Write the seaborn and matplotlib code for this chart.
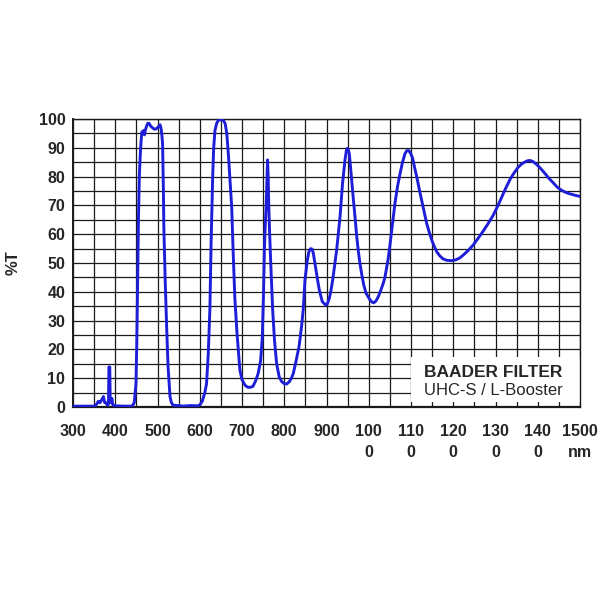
import numpy as np
import matplotlib
matplotlib.use("Agg")
import matplotlib.pyplot as plt
from matplotlib.patches import Rectangle
import seaborn as sns

# wavelength (nm) and transmission (%T)
wavelength = [
    300, 340, 352, 356, 360, 364, 368, 372, 375, 378, 382, 384, 385, 387, 388,
    390, 392, 394, 400, 420, 440, 445, 449, 451, 453, 455, 457, 459, 461, 463,
    465, 467, 469, 471, 474, 477, 480, 484, 488, 492, 496, 500, 503, 506, 508,
    510, 512, 514, 515, 518, 521.6, 525, 529.6, 533, 537, 550, 560, 580, 595,
    600.6, 606, 612, 616, 620, 624, 627, 630.6, 633, 636, 640, 644, 648, 652,
    656, 660, 664, 667.6, 671, 675.6, 679, 683, 688, 695, 700, 707, 713, 719,
    726, 732, 738, 744, 748, 751, 753, 755, 757, 759, 760.5, 762, 763, 765,
    768, 772.6, 777, 782, 788, 794, 800, 806, 812, 817, 821.5, 828, 835, 841,
    845, 849, 854.6, 858.5, 862.5, 866, 868.8, 875, 879, 883, 890, 898, 902,
    906.6, 910, 914.6, 919, 924, 932, 938, 943.8, 947, 949, 951, 954, 956.5,
    959.6, 963, 967.5, 971, 975, 979, 983, 988, 993.5, 1003, 1008, 1012, 1017,
    1022.6, 1028, 1034.4, 1038.5, 1046, 1050, 1058, 1062, 1068, 1074, 1080,
    1085.8, 1090, 1095, 1100, 1104, 1108, 1113.5, 1119, 1125, 1131, 1137,
    1143, 1149, 1155, 1161, 1168, 1176, 1186, 1196, 1206, 1216, 1224, 1235,
    1247.5, 1259, 1271, 1283, 1295, 1305, 1314.6, 1324, 1334, 1344, 1354,
    1362, 1370, 1376, 1381.7, 1389, 1397.5, 1407, 1417, 1427, 1437, 1445,
    1452.7, 1462, 1472, 1486, 1500,
]
transmission = [
    0.3, 0.3, 0.3, 1.0, 2.0, 1.5, 2.5, 3.6, 1.5, 1.5, 0.5, 1.0, 13.9, 13.9, 3.0,
    1.5, 3.0, 0.8, 0.4, 0.3, 0.3, 1.5, 8, 22, 45, 66, 80, 87, 92, 95.5,
    95, 96, 94.5, 96, 97.5, 98.5, 98.5, 97.5, 97, 96.5, 96.5, 97, 97.5, 98, 97,
    95, 91.5, 75, 62.5, 45, 28, 14, 3.6, 1.5, 0.6, 0.5, 0.3, 0.5, 0.4,
    0.8, 2, 5, 8, 18, 34, 58, 80, 90, 96, 98.5, 99.5, 99.8, 99.8,
    99.5, 98.5, 95, 88, 80, 69.5, 54, 38, 26, 12.8, 9.5, 7.6, 6.9, 6.8,
    7.2, 9, 11.5, 16, 24, 40, 54.5, 63, 69, 78, 85.8, 80, 72, 62,
    50, 33.7, 23, 15, 10.5, 8.8, 8.1, 8, 8.8, 10, 11.7, 16, 21, 28,
    34, 44, 51, 54, 55, 54.8, 53.4, 47.6, 44, 40.6, 36.6, 35.4, 35.8,
    37.7, 40, 44, 49, 54.5, 66, 77.7, 85.8, 89, 89.8, 89.6, 88, 84,
    78.8, 73, 66, 60, 54.5, 50, 46.4, 42.5, 39.5, 37.2, 36.4, 36.2, 36.8,
    38.3, 40.3, 43, 45.2, 51.5, 56, 66, 70.7, 76.5, 81, 85,
    88, 89, 89, 87.8, 86.3, 83.5, 80, 76, 71.9, 67.8, 63.8,
    60.8, 58, 55.8, 53.9, 52.5, 51.4, 50.9, 50.8, 51.1, 51.8, 52.8, 54.3,
    56.3, 58.6, 61.1, 63.8, 66.7, 69.7, 72.8, 75.9, 78.9, 81.3, 83.3,
    84.4, 85.1, 85.5, 85.6, 85.2, 84.2, 82.8, 81.1, 79.3, 77.8, 76.5,
    75.6, 74.8, 74.2, 73.6, 73.1,
]

x_ticks = [300, 400, 500, 600, 700, 800, 900, 1000, 1100, 1200, 1300, 1400, 1500]
x_labels = ["300", "400", "500", "600", "700", "800", "900",
            "100\n0", "110\n0", "120\n0", "130\n0", "140\n0", "1500\nnm"]
y_ticks = [0, 10, 20, 30, 40, 50, 60, 70, 80, 90, 100]

sns.set_style("white")
plt.rcParams["font.family"] = ["Liberation Sans", "DejaVu Sans"]

fig = plt.figure(figsize=(6, 6), dpi=100)
ax = fig.add_axes([73 / 600, 1 - 407 / 600, 507 / 600, 288 / 600])

sns.lineplot(x=wavelength, y=transmission, ax=ax, color="#1e1ed8",
             linewidth=2.1, sort=False, zorder=3)
ax.lines[-1].set_solid_joinstyle("round")

ax.set_xlim(300, 1500)
ax.set_ylim(0, 100)
ax.set_xticks(x_ticks)
ax.set_xticklabels(x_labels, fontsize=11.5, fontweight="bold", linespacing=1.45)
ax.set_xticks(np.arange(350, 1500, 100), minor=True)
ax.set_yticks(y_ticks)
ax.set_yticklabels([str(v) for v in y_ticks], fontsize=11.5, fontweight="bold")
ax.set_yticks(np.arange(5, 100, 10), minor=True)

ax.set_axisbelow(True)
ax.grid(which="both", color="#1a1a1a", linewidth=0.9)
ax.tick_params(which="both", direction="inout", length=7, width=1.2,
               color="#1a1a1a")
ax.tick_params(axis="x", which="major", pad=9)
ax.tick_params(axis="y", which="major", pad=2)
for s in ax.spines.values():
    s.set_color("#1a1a1a")
    s.set_linewidth(1.0)
ax.spines["bottom"].set_linewidth(1.6)
ax.spines["left"].set_linewidth(1.4)

ax.set_xlabel("")
ax.set_ylabel("%T", fontsize=12, fontweight="bold")
ax.yaxis.set_label_coords(-0.104, 0.5)

# legend box in the lower right corner
ax.add_patch(Rectangle((1101, 1.6), 398.5, 15.9, facecolor="white",
                       edgecolor="none", zorder=1))
ax.text(1131, 10.4, "BAADER FILTER", fontsize=12.5, fontweight="bold",
        va="baseline", ha="left", zorder=4)
ax.text(1131, 4.2, "UHC-S / L-Booster", fontsize=12, va="baseline",
        ha="left", zorder=4)

fig.savefig("out.png", dpi=100, facecolor="white")
